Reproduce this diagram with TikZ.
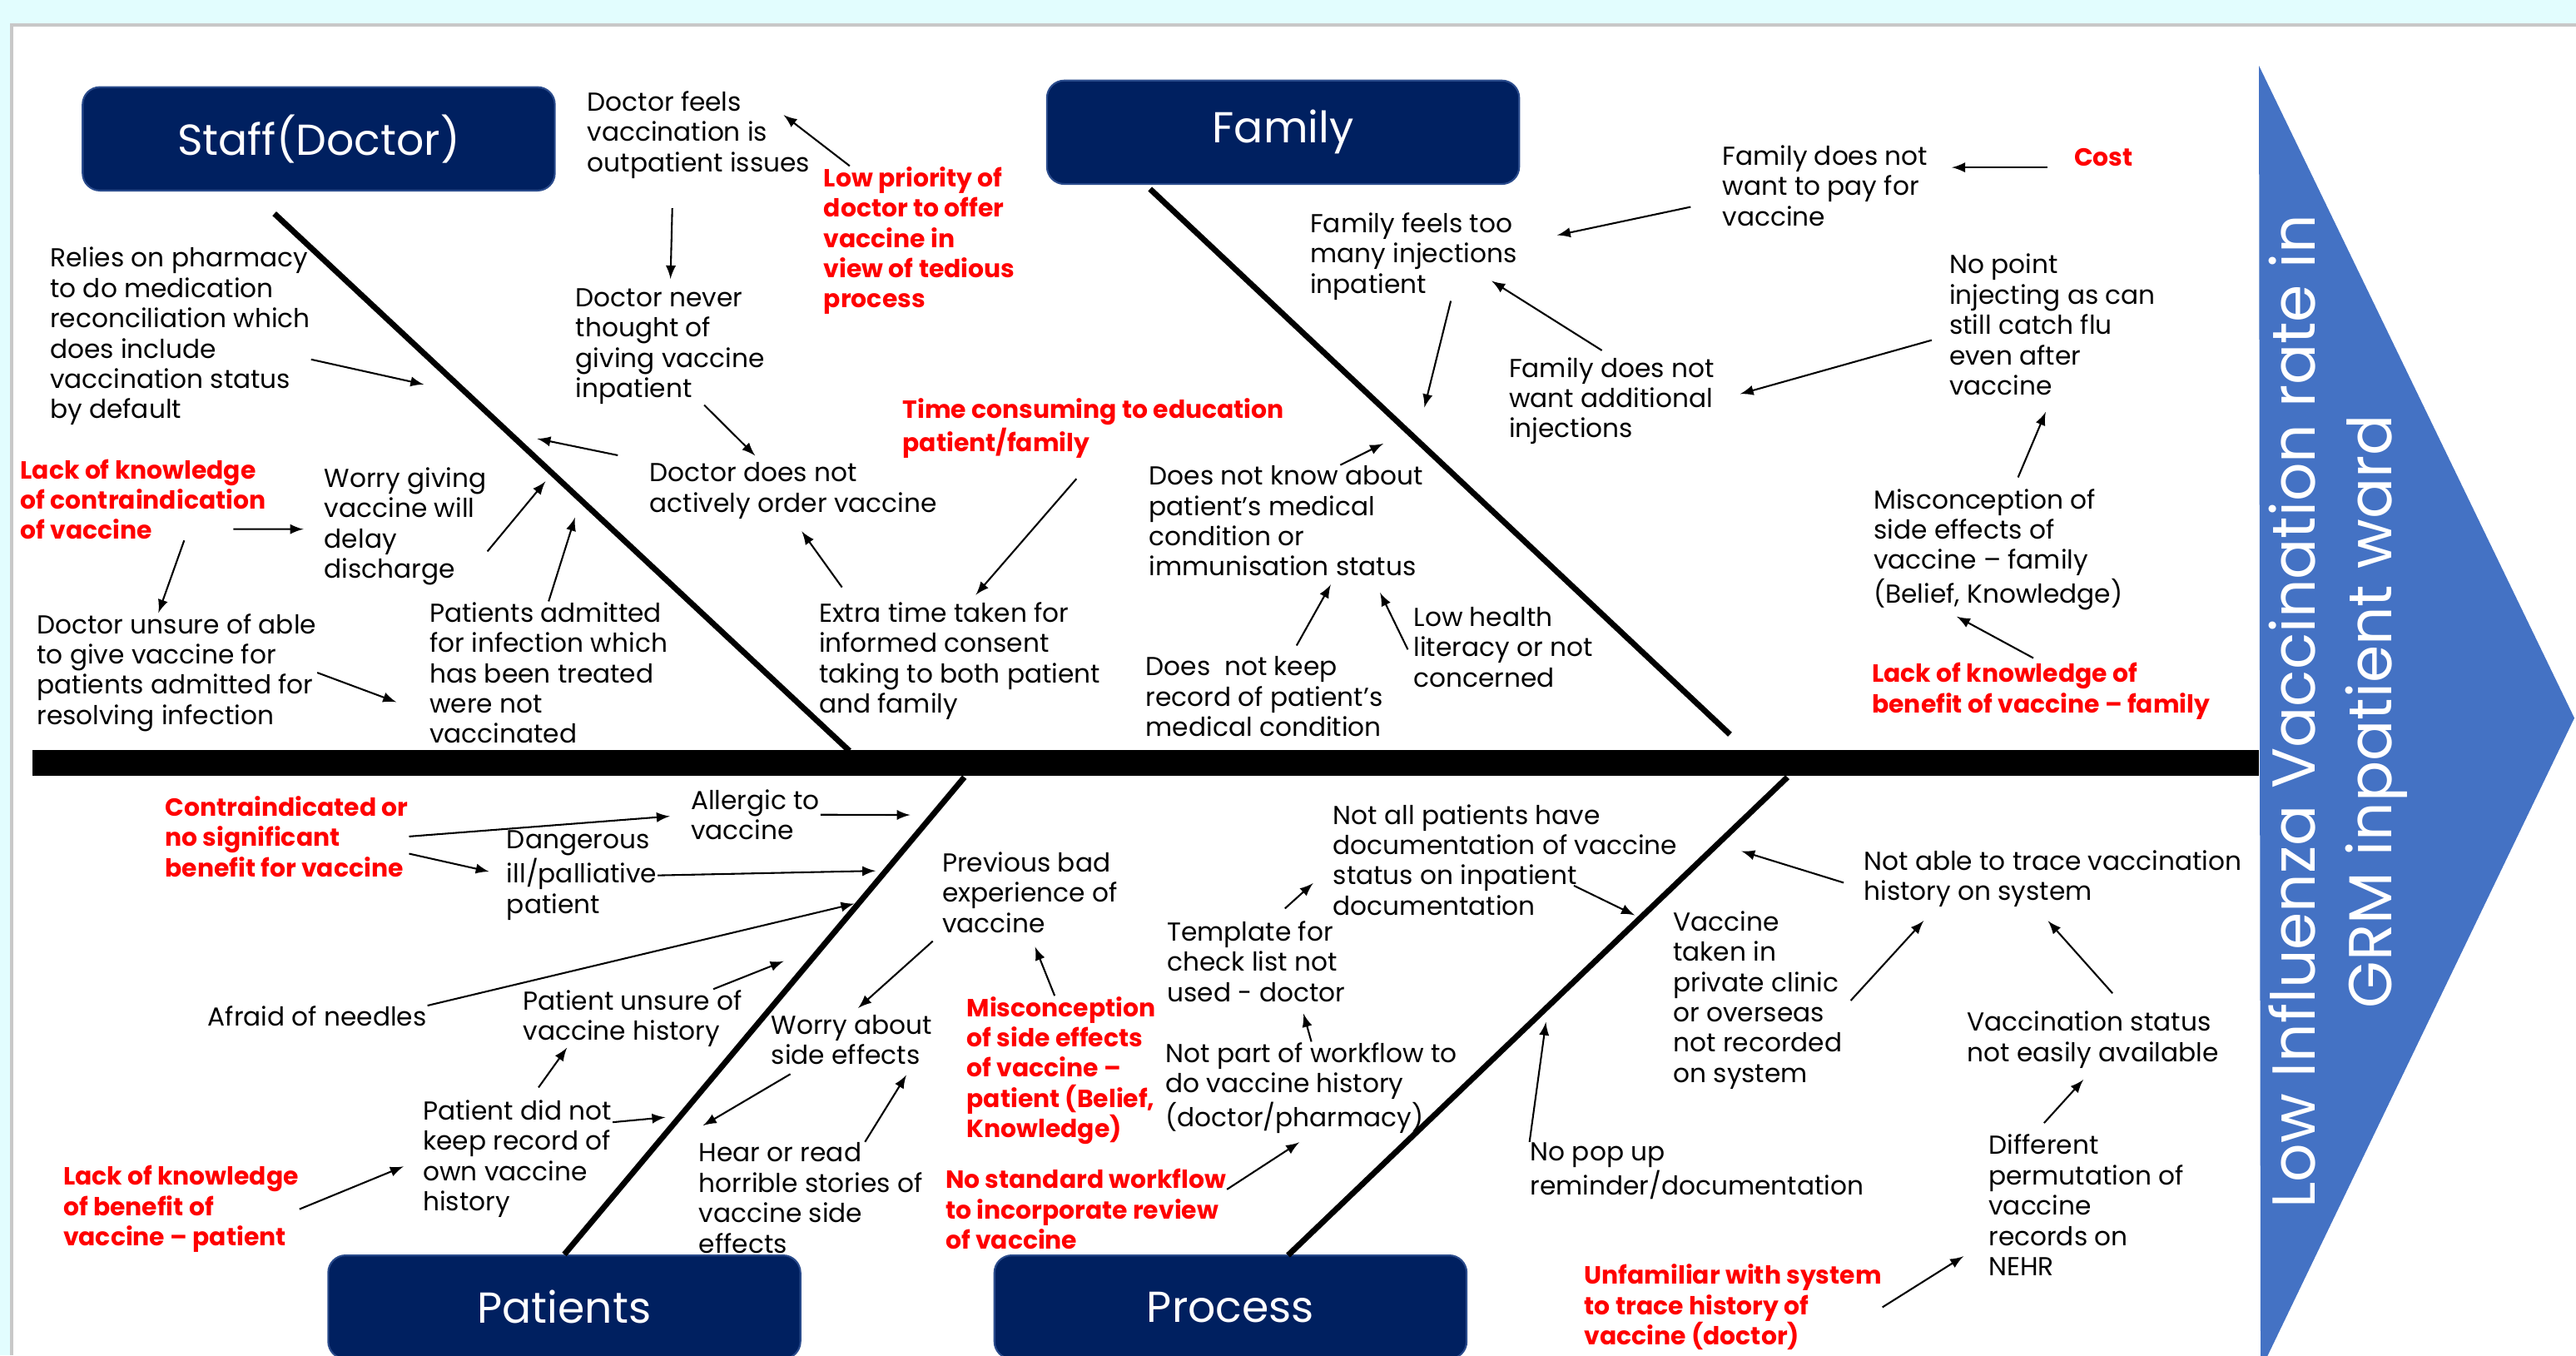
\documentclass[tikz,border=0pt]{standalone}
\usepackage{fontspec}
\usepackage{xcolor}
\usepackage{tikz}
\setmainfont{Poppins}
\definecolor{headblue}{HTML}{002060}
\definecolor{headedge}{HTML}{2A4B8C}
\definecolor{arrowblue}{HTML}{4472C4}
\definecolor{slidecyan}{HTML}{E2FDFE}
\definecolor{framegray}{HTML}{C8C8C8}

\begin{document}
\begin{tikzpicture}[x=0.02cm, y=-0.02cm, >=latex,
    cause/.style={anchor=north west, inner sep=0pt, align=left, font=\fontsize{9}{10.5}\selectfont},
    root/.style={cause, text=red, font=\fontsize{8.6}{10.5}\selectfont\bfseries},
    head/.style={fill=headblue, draw=headedge, line width=0.6pt, rounded corners=6pt, minimum width=5.75cm, minimum height=1.26cm, text=white, font=\fontsize{15}{18}\selectfont},
    bone/.style={line width=2pt},
    spine/.style={line width=9pt},
    every path/.append style={line width=0.6pt}]
    \useasboundingbox (0, 0) rectangle (1568, 825);
    \fill [slidecyan] (0, 0) rectangle (1568, 825);
    \fill [white] (7, 15) rectangle (1568, 825);
    \draw [framegray, line width=1.2pt] (7, 825)--(7, 15)--(1568, 15);
    \fill [arrowblue] (1375, 40)--(1567, 437)--(1376, 834)--cycle;

    \node [head] (1) at (194, 84.5) {Staff(Doctor)};
    \node [head] (2) at (781, 80.5) {Family};
    \node [head] (3) at (343.5, 795.5) {Patients};
    \node [head] (4) at (749, 795.5) {Process};
    \node [text=white, rotate=90, align=center, font=\fontsize{21}{26.5}\selectfont] (5) at (1423, 433) {Low Influenza Vaccination rate in\\GRM inpatient ward};

    \node [cause] (11) at (357, 55) {Doctor feels\\vaccination is\\outpatient issues};
    \node [root] (12) at (501, 101) {Low priority of\\doctor to offer\\vaccine in\\view of tedious\\process};
    \node [cause] (13) at (350, 175) {Doctor never\\thought of\\giving vaccine\\inpatient};
    \node [cause] (14) at (395, 281) {Doctor does not\\actively order vaccine};
    \node [cause] (15) at (30, 150) {Relies on pharmacy\\to do medication\\reconciliation which\\does include\\vaccination status\\by default};
    \node [root] (16) at (12, 279) {Lack of knowledge\\of contraindication\\of vaccine};
    \node [cause] (17) at (197, 284) {Worry giving\\vaccine will\\delay\\discharge};
    \node [cause] (18) at (22, 373) {Doctor unsure of able\\to give vaccine for\\patients admitted for\\resolving infection};
    \node [cause] (19) at (261, 366) {Patients admitted\\for infection which\\has been treated\\were not\\vaccinated};

    \node [root] (21) at (549, 242) {Time consuming to education\\patient/family};
    \node [cause] (22) at (498, 366) {Extra time taken for\\informed consent\\taking to both patient\\and family};
    \node [cause] (23) at (797, 129) {Family feels too\\many injections\\inpatient};
    \node [cause] (24) at (1048, 88) {Family does not\\want to pay for\\vaccine};
    \node [root] (25) at (1262, 90) {Cost};
    \node [cause] (26) at (918, 217) {Family does not\\want additional\\injections};
    \node [cause] (27) at (1186, 154) {No point\\injecting as can\\still catch flu\\even after\\vaccine};
    \node [cause] (28) at (699, 283) {Does not know about\\patient’s medical\\condition or\\immunisation status};
    \node [cause] (29) at (697, 399) {Does\ \ not keep\\record of patient’s\\medical condition};
    \node [cause] (31) at (860, 369) {Low health\\literacy or not\\concerned};
    \node [cause] (32) at (1140, 297) {Misconception of\\side effects of\\vaccine -- family\\(Belief, Knowledge)};
    \node [root] (33) at (1139, 403) {Lack of knowledge of\\benefit of vaccine -- family};

    \node [root] (41) at (100, 484) {Contraindicated or\\no significant\\benefit for vaccine};
    \node [cause] (42) at (420, 480) {Allergic to\\vaccine};
    \node [cause] (43) at (308, 505) {Dangerous\\ill/palliative\\patient};
    \node [cause] (44) at (126, 612) {Afraid of needles};
    \node [cause] (45) at (318, 602) {Patient unsure of\\vaccine history};
    \node [cause] (46) at (257, 669) {Patient did not\\keep record of\\own vaccine\\history};
    \node [root] (47) at (38, 709) {Lack of knowledge\\of benefit of\\vaccine -- patient};
    \node [cause] (48) at (573, 518) {Previous bad\\experience of\\vaccine};
    \node [cause] (49) at (469, 617) {Worry about\\side effects};
    \node [cause] (50) at (425, 695) {Hear or read\\horrible stories of\\vaccine side\\effects};
    \node [root] (51) at (588, 606) {Misconception\\of side effects\\of vaccine --\\patient (Belief,\\Knowledge)};

    \node [cause] (61) at (811, 489) {Not all patients have\\documentation of vaccine\\status on inpatient\\documentation};
    \node [cause] (62) at (710, 560) {Template for\\check list not\\used - doctor};
    \node [cause] (63) at (709, 634) {Not part of workflow to\\do vaccine history\\(doctor/pharmacy)};
    \node [root] (64) at (575, 711) {No standard workflow\\to incorporate review\\of vaccine};
    \node [cause] (65) at (931, 695) {No pop up\\reminder/documentation};
    \node [cause] (66) at (1018, 554) {Vaccine\\taken in\\private clinic\\or overseas\\not recorded\\on system};
    \node [cause] (67) at (1134, 517) {Not able to trace vaccination\\history on system};
    \node [cause] (68) at (1197, 615) {Vaccination status\\not easily available};
    \node [cause] (69) at (1210, 690) {Different\\permutation of\\vaccine\\records on\\NEHR};
    \node [root] (70) at (964, 769) {Unfamiliar with system\\to trace history of\\vaccine (doctor)};

    \coordinate (71) at (167, 130);
    \coordinate (72) at (517, 457);
    \coordinate (73) at (700, 115);
    \coordinate (74) at (1053, 447);
    \coordinate (75) at (587, 473);
    \coordinate (76) at (1088, 473);
    \coordinate (77) at (784, 764);
    \coordinate (78) at (20, 464.5);
    \coordinate (79) at (1375, 464.5);
    \coordinate (81) at (327, 267);
    \coordinate (82) at (258, 234);
    \coordinate (83) at (332, 293);
    \coordinate (84) at (350, 315);
    \coordinate (85) at (867, 248);
    \coordinate (86) at (842, 270);
    \coordinate (87) at (554, 496);
    \coordinate (88) at (533, 530);
    \coordinate (89) at (520, 550);
    \coordinate (90) at (477, 585);
    \coordinate (91) at (405, 680);
    \coordinate (92) at (428, 685);
    \coordinate (93) at (995, 557);
    \coordinate (94) at (941, 622);
    \coordinate (95) at (1060, 518);

    \draw [spine] (78) to (79);
    \draw [bone] (71) to (72);
    \draw [bone] (73) to (74);
    \draw [bone] (75) to (3.north);
    \draw [bone] (76) to (77);

    \draw [->] (12.133) to ([shift={(120,15)}]11.north west);
    \draw [->, shorten <=10pt, shorten >=3pt] (11.240) to (13.north);
    \draw [->, shorten >=3pt] (13.-60) to (14.138);
    \draw [->, shorten <=11pt] (14.north west) to (81);
    \draw [->] (15.-10) to (82);
    \draw [->, shorten >=7pt] ([shift={(130,43)}]16.north west) to (17.182);
    \draw [->] (16.-45) to (18.107);
    \draw [->] (17.-17) to (83);
    \draw [->, shorten >=12pt] (18.east) to (19.199);
    \draw [->] (19.north) to (84);

    \draw [->, shorten <=9pt, shorten >=3pt] (21.south) to (22.80);
    \draw [->, shorten <=6pt, shorten >=5pt] (22.151) to (14.south);
    \draw [->, shorten <=11pt, shorten >=14pt] (24.188) to (23.7);
    \draw [->, shorten <=9pt, shorten >=8pt] (25.south west) to (25.south west -| 24.east);
    \draw [->] (23.-50) to (85);
    \draw [->, shorten <=4pt] (26.north) to ([shift={(111,42)}]23.north west);
    \draw [->, shorten <=6pt, shorten >=9pt] (27.186) to (26.east);
    \draw [->] (28.46) to (86);
    \draw [->, shorten <=4pt, shorten >=3pt] (29.57) to (28.-49);
    \draw [->, shorten <=4pt, shorten >=6pt] (31.188) to (28.-33);
    \draw [->, shorten <=4pt, shorten >=6pt] (32.76) to (27.south);
    \draw [->, shorten <=3pt, shorten >=4pt] (33.north) to (32.230);

    \draw [->, shorten >=7pt] (41.east) to (42.west);
    \draw [->, shorten >=6pt] (41.-8) to (43.west);
    \draw [->] (42.east) to (87);
    \draw [->] (43.east) to (88);
    \draw [->] (44.north east) to (89);
    \draw [->] (45.20) to (90);
    \draw [->, shorten <=5pt] (46.78) to (45.204);
    \draw [->] (46.21) to (91);
    \draw [->, shorten >=7pt] (47.east) to (46.west);
    \draw [->, shorten <=4pt, shorten >=3pt] (48.south west) to (49.north);
    \draw [->, shorten <=6pt] (49.209) to (92);
    \draw [->, shorten >=4pt] (50.46) to (49.-23);
    \draw [->, shorten >=5pt] (51.95) to (48.south);

    \draw [->] ([shift={(147,50)}]61.north west) to (93);
    \draw [->, shorten <=6pt, shorten >=9pt] (62.69) to (61.182);
    \draw [->, shorten >=4pt] (63.north) to (62.-43);
    \draw [->, shorten >=5pt] (64.8) to (63.south);
    \draw [->] (65.north west) to (94);
    \draw [->, shorten <=7pt] (67.183) to (95);
    \draw [->, shorten <=4pt, shorten >=6pt] (66.-6) to (67.194);
    \draw [->, shorten <=8pt, shorten >=6pt] (68.40) to (67.241);
    \draw [->, shorten <=5pt, shorten >=5pt] (69.126) to (68.south);
    \draw [->, shorten >=10pt] (70.east) to (69.200);
\end{tikzpicture}
\end{document}
